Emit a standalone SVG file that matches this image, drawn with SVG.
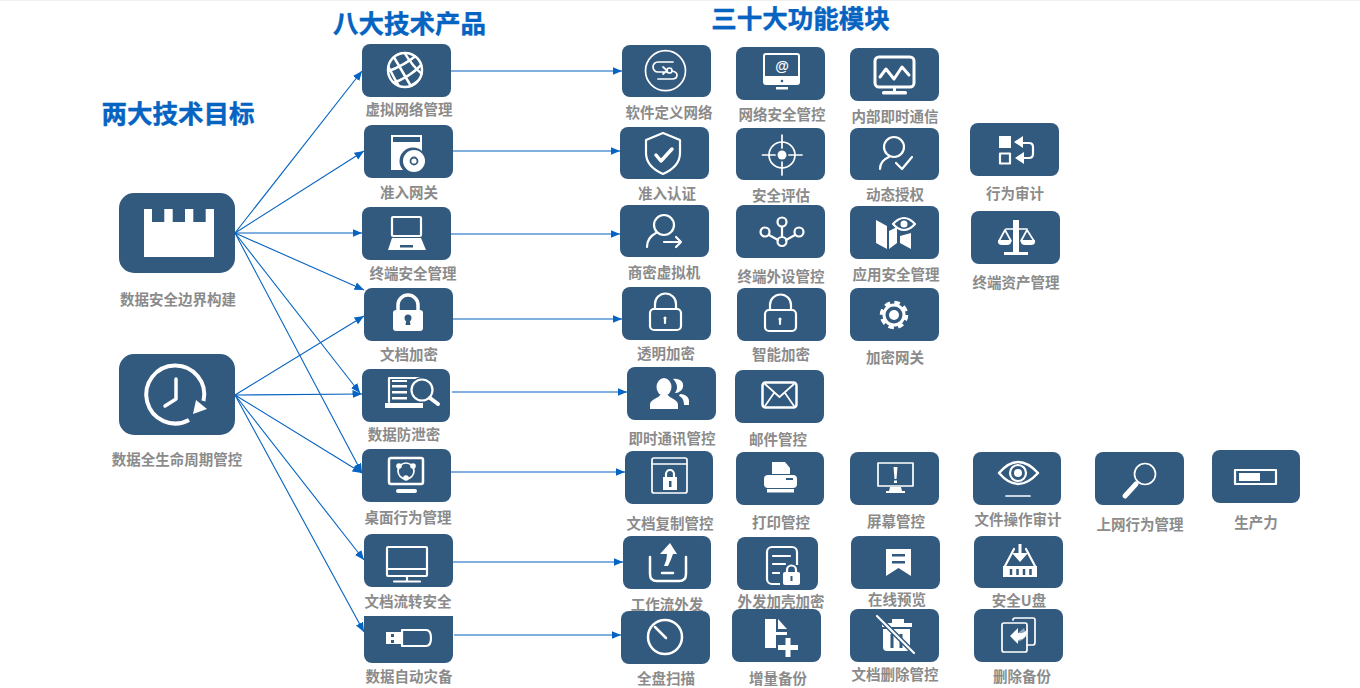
<svg xmlns="http://www.w3.org/2000/svg" width="1360" height="688" viewBox="0 0 1360 688">
<style>
.n{fill:#32597e}
.s{fill:none;stroke:#fff;stroke-width:2.200;stroke-linecap:round;stroke-linejoin:round}
.t{fill:none;stroke:#fff;stroke-width:1.700;stroke-linecap:round;stroke-linejoin:round}
.f{fill:#fff}
.d{fill:#32597e}
.l{font-family:"Noto Sans CJK SC","Liberation Sans",sans-serif;font-size:14.500px;font-weight:700;fill:#8b8b8b;text-anchor:middle;transform:translateY(.6px)}
.h{font-family:"Noto Sans CJK SC","Liberation Sans",sans-serif;font-size:25.500px;font-weight:700;fill:#0563c1;stroke:#0563c1;stroke-width:.4px;text-anchor:middle}
.c{fill:none;stroke:#0563c1;stroke-width:1.100;marker-end:url(#a)}
</style>
<defs>
<marker id="a" markerUnits="userSpaceOnUse" markerWidth="10" markerHeight="9" refX="9.500" refY="4" orient="auto"><path d="M0 0L9.500 4L0 8Z" fill="#0563c1"/></marker>
<clipPath id="g"><circle cx="405" cy="70" r="18"/></clipPath>
</defs>
<rect width="1360" height="1" fill="#f0f0f0"/>
<text class="h" x="178" y="123">两大技术目标</text>
<text class="h" x="409.500" y="33">八大技术产品</text>
<text class="h" x="800.500" y="28">三十大功能模块</text>

<g id="goal1"><rect class="n" x="119" y="193" width="116" height="80" rx="15"/><path class="f" d="M144 209h8v13h12.300v-13h8.400v13H185v-13h8.300v13h12.400v-13H214v48H144Z"/><text class="l" x="178" y="304">数据安全边界构建</text></g>
<g id="goal2"><rect class="n" x="119" y="354" width="116" height="81" rx="15"/><path class="s" style="stroke-width:4;stroke-linecap:butt" d="M203.500 401A29 29 0 1 0 189 420"/><path class="f" d="M196 400L207 409L193 414Z"/><path class="s" style="stroke-width:3.500" d="M176 379V399L165 406"/><text class="l" x="177" y="464">数据全生命周期管控</text></g>

<g id="p1"><rect class="n" x="362" y="44" width="89" height="53" rx="8"/><g clip-path="url(#g)" fill="none" stroke="#fff" stroke-width="2.500"><path d="M386 60Q398 52 408 50M386 72Q404 66 418 54M390 84Q410 78 424 62M402 90Q416 84 426 74"/><path d="M392 54Q398 64 412 88M404 52Q412 66 424 76M388 66Q394 78 400 88M416 52Q420 58 426 62"/></g><circle cx="405" cy="70" r="17" fill="none" stroke="#fff" stroke-width="2.500"/><text class="l" x="409" y="114">虚拟网络管理</text></g>
<g id="p2"><rect class="n" x="364" y="125" width="89" height="53" rx="8"/><rect class="f" x="391" y="135" width="31" height="35"/><rect class="d" x="393" y="137" width="27" height="5"/><circle class="d" cx="413" cy="161" r="13.500"/><circle class="f" cx="414" cy="161" r="11"/><circle cx="414" cy="161" r="3.500" fill="none" stroke="#32597e" stroke-width="1.800"/><text class="l" x="409" y="197">准入网关</text></g>
<g id="p3"><rect class="n" x="362" y="207" width="89" height="53" rx="8"/><rect class="s" x="392" y="217" width="29" height="19" rx="1"/><path class="f" d="M392 238H421L426 250H388Z"/><rect class="d" x="400" y="245" width="13" height="2.500"/><text class="l" x="413" y="278">终端安全管理</text></g>
<g id="p4"><rect class="n" x="364" y="288" width="89" height="53" rx="8"/><rect class="f" x="393" y="310" width="30" height="21" rx="3"/><path class="s" style="stroke-width:3.500" d="M398 310V305A10 10 0 0 1 418 305V310"/><circle class="d" cx="408" cy="318" r="3.500"/><path class="d" d="M406.500 319h3l1 6h-5Z"/><text class="l" x="409" y="359">文档加密</text></g>
<g id="p5"><rect class="n" x="362" y="369" width="88" height="53" rx="8"/><path class="s" d="M389 402V378H420"/><path class="f" d="M385 403H423V408H385Z"/><path class="f" d="M392 385h15v2.500h-15ZM392 391h15v2.500h-15ZM392 397h15v2.500h-15ZM392 380h15v2h-15Z"/><circle cx="422" cy="390" r="13" class="d"/><circle class="s" cx="422" cy="390" r="10.500"/><path class="s" style="stroke-width:4" d="M430 398L438 404"/><text class="l" x="404" y="439">数据防泄密</text></g>
<g id="p6"><rect class="n" x="362" y="449" width="89" height="53" rx="8"/><rect x="389" y="458" width="34" height="26" rx="2" fill="none" stroke="#fff" stroke-width="2.500"/><rect class="f" x="396" y="489" width="21" height="4" rx="2"/><circle class="t" cx="406" cy="471" r="8"/><circle class="f" cx="399" cy="466" r="2.800"/><circle class="f" cx="413" cy="466" r="2.800"/><circle class="f" cx="406" cy="478" r="2.800"/><text class="l" x="408" y="522">桌面行为管理</text></g>
<g id="p7"><rect class="n" x="364" y="534" width="89" height="53" rx="8"/><rect class="s" x="387" y="547" width="40" height="29" rx="1"/><path class="s" d="M387 569H427M407 576V581M394 581.500H420"/><text class="l" x="408" y="606">文档流转安全</text></g>
<g id="p8"><path class="n" d="M364 616H453V655a8 8 0 0 1-8 8H372a8 8 0 0 1-8-8Z"/><rect class="f" x="386" y="632" width="15" height="12"/><rect class="d" x="391" y="634" width="3" height="3"/><rect class="d" x="391" y="640" width="3" height="3"/><path class="s" d="M402 630H426Q431 630 431 638Q431 646 426 646H402Z"/><text class="l" x="409" y="681">数据自动灾备</text></g>

<g id="m1"><rect class="n" x="622" y="45" width="89" height="52" rx="8"/><circle class="t" cx="665.500" cy="70.700" r="20"/><path class="t" d="M673 62H658A5 5 0 0 0 658 72H667M663 67L667 70.500L663 74M672 71Q677 72 677 75Q677 79 672 79H658"/><circle class="t" cx="669.500" cy="70.500" r="2.500"/><text class="l" x="669" y="117">软件定义网络</text></g>
<g id="m2"><rect class="n" x="736" y="47" width="89" height="53" rx="8"/><rect x="764" y="54" width="35" height="30" rx="2" fill="none" stroke="#fff" stroke-width="2"/><rect class="f" x="764" y="76" width="35" height="8"/><circle class="d" cx="782" cy="81" r="1.300"/><rect class="f" x="776" y="87" width="12" height="2.500"/><text x="782" y="71" font-family="'Liberation Sans',sans-serif" font-size="14" font-weight="700" fill="#fff" text-anchor="middle">@</text><text class="l" x="782" y="119">网络安全管控</text></g>
<g id="m3"><rect class="n" x="850" y="48" width="89" height="53" rx="8"/><rect x="875" y="57" width="39" height="30" rx="4" fill="none" stroke="#fff" stroke-width="3"/><path class="s" style="stroke-width:3" d="M880 77L886 69L894 79L902 67L909 75"/><rect class="f" x="882" y="91" width="25" height="3.500" rx="1.500"/><rect class="f" x="893" y="87" width="3" height="5"/><text class="l" x="895" y="121">内部即时通信</text></g>
<g id="m4"><rect class="n" x="620" y="127" width="89" height="52" rx="8"/><path class="s" d="M663 133L680 140V153C680 164 672 170 663 174C654 170 646 164 646 153V140Z"/><path class="s" style="stroke-width:3.500" d="M656 155L661 161L672 149"/><text class="l" x="667" y="198">准入认证</text></g>
<g id="m5"><rect class="n" x="736" y="128" width="89" height="52" rx="8"/><circle class="t" cx="782" cy="155" r="13"/><circle class="f" cx="782" cy="155" r="4.500"/><path class="t" d="M782 135V148M782 162V175M762.500 155H775M789 155H802"/><text class="l" x="781" y="200">安全评估</text></g>
<g id="m6"><rect class="n" x="850" y="128" width="89" height="52" rx="8"/><circle class="s" cx="894" cy="147" r="10"/><path class="s" d="M880 169C880 162 884 159 889 157M896 163L902 169L912 157"/><text class="l" x="895" y="199">动态授权</text></g>
<g id="m7"><rect class="n" x="970" y="123" width="89" height="53" rx="8"/><rect class="f" x="999" y="136" width="12" height="12"/><rect class="s" x="1000" y="153.500" width="10" height="10" rx="0"/><path class="s" d="M1020 143H1029Q1033 143 1033 147V154Q1033 158 1029 158H1020"/><path class="f" d="M1014 142L1023 136V148ZM1015 158L1024 152V164Z"/><text class="l" x="1015" y="198">行为审计</text></g>
<g id="m8"><rect class="n" x="620" y="205" width="89" height="52" rx="8"/><circle class="s" cx="664" cy="225" r="10"/><path class="s" d="M647 247C647 240 650 236 656 233M664 242H681M676 237L681 242L676 247"/><text class="l" x="664" y="277">商密虚拟机</text></g>
<g id="m9"><rect class="n" x="736" y="205" width="89" height="53" rx="8"/><path class="s" d="M782 227V236M769 235L778 240M795 235L786 240"/><circle class="s" cx="782" cy="222" r="4.500"/><circle class="s" cx="765" cy="232" r="4.500"/><circle class="s" cx="799" cy="232" r="4.500"/><circle class="s" cx="782" cy="241.500" r="4.500"/><text class="l" x="781" y="281">终端外设管控</text></g>
<g id="m10"><rect class="n" x="850" y="206" width="89" height="53" rx="8"/><path class="f" d="M876 220L887 226V249L876 243ZM889 231L897 227V243L889 249ZM900 236L911 233V249L900 243Z"/><path class="s" d="M893 224Q904 212 915 224Q904 236 893 224Z"/><circle class="f" cx="904" cy="224" r="3.500"/><text class="l" x="896" y="279">应用安全管理</text></g>
<g id="m11"><rect class="n" x="971" y="211" width="89" height="53" rx="8"/><rect class="f" x="1013" y="220" width="6" height="33"/><rect class="f" x="1004" y="252" width="24" height="3"/><path class="t" d="M1006 229H1027M1005 230L999 241M1005 230L1011 241M1027 230L1021 241M1027 230L1034 241"/><path class="f" d="M998 240H1011V242Q1011 245 1007 245H1002Q998 245 998 242ZM1021 240H1035V242Q1035 245 1031 245H1025Q1021 245 1021 242Z"/><text class="l" x="1016" y="287">终端资产管理</text></g>
<g id="m12"><rect class="n" x="622" y="287" width="89" height="53" rx="8"/><rect class="s" x="650" y="309" width="31" height="21" rx="4"/><path class="s" d="M655 309V304A10.500 10.500 0 0 1 676 304V309"/><path class="s" d="M665 318V323"/><circle class="f" cx="665" cy="318" r="1.500"/><text class="l" x="666" y="358">透明加密</text></g>
<g id="m13"><rect class="n" x="737" y="288" width="89" height="53" rx="8"/><rect class="s" x="765" y="310" width="31" height="21" rx="4"/><path class="s" d="M770 310V305A10.500 10.500 0 0 1 791 305V310"/><path class="s" d="M780 319V324"/><circle class="f" cx="780" cy="319" r="1.500"/><text class="l" x="781" y="359">智能加密</text></g>
<g id="m14"><rect class="n" x="850" y="288" width="89" height="53" rx="8"/><circle cx="894" cy="315" r="10" fill="none" stroke="#fff" stroke-width="3"/><circle cx="894" cy="315" r="12.500" fill="none" stroke="#fff" stroke-width="3.500" stroke-dasharray="5.500 4.320"/><circle class="f" cx="894" cy="315" r="5"/><text class="l" x="895" y="362">加密网关</text></g>
<g id="m15"><rect class="n" x="627" y="367" width="89" height="53" rx="8"/><path class="f" d="M673 379C680 378 684 382 683 387C682 391 678 393 675 393C678 389 678 384 673 379ZM680 394C685 394 689 397 689 401V405H684C684 400 682 397 679 396Z"/><ellipse class="f" cx="664" cy="387" rx="7.500" ry="9"/><path class="f" d="M660 395H668C669 398 677 399 678 404V409H650V404C651 399 659 398 660 395Z"/><text class="l" x="672" y="443">即时通讯管控</text></g>
<g id="m16"><rect class="n" x="735" y="370" width="89" height="53" rx="8"/><rect x="762.500" y="382.500" width="34" height="25" rx="3" fill="none" stroke="#fff" stroke-width="2.500"/><path class="t" d="M765 384L779.500 397L794 384M765 406L774 393M794 406L785 393"/><text class="l" x="778" y="444">邮件管控</text></g>
<g id="m17"><rect class="n" x="625" y="451" width="88" height="53" rx="8"/><rect class="t" x="652" y="458" width="35" height="35" rx="2"/><path class="t" d="M652 464H687"/><rect class="f" x="663" y="477" width="14" height="13"/><path class="s" d="M666 477V474A4 4 0 0 1 674 474V477"/><rect class="d" x="669" y="481" width="2.500" height="6"/><text class="l" x="670" y="528">文档复制管控</text></g>
<g id="m18"><rect class="n" x="736" y="452" width="88" height="53" rx="8"/><path class="f" d="M772 462H785L790 468V474H772Z"/><rect class="f" x="764" y="475" width="33" height="13" rx="4"/><rect class="d" x="786" y="478" width="7" height="2"/><rect class="f" x="767" y="489" width="27" height="3.500"/><text class="l" x="781" y="527">打印管控</text></g>
<g id="m19"><rect class="n" x="850" y="452" width="89" height="53" rx="8"/><rect class="t" x="878" y="463" width="35" height="23"/><path class="f" d="M893.500 467H897.500L896.500 479H894.500ZM894 480.500H897V483H894Z"/><path class="f" d="M890 487H901L902 491H905V493H886V491H889Z"/><text class="l" x="896" y="526">屏幕管控</text></g>
<g id="m20"><rect class="n" x="973" y="452" width="88" height="53" rx="8"/><path class="s" style="stroke-width:2.500" d="M999 473Q1018 451 1038 473Q1018 495 999 473Z"/><circle class="s" cx="1018" cy="473" r="8"/><circle class="f" cx="1018" cy="473" r="4"/><path class="t" d="M1006 496H1030"/><text class="l" x="1018" y="524">文件操作审计</text></g>
<g id="m21"><rect class="n" x="1095" y="452" width="89" height="53" rx="8"/><circle class="t" cx="1145" cy="474" r="10.500"/><path class="s" style="stroke-width:5" d="M1136 484L1125 496"/><text class="l" x="1140" y="529">上网行为管理</text></g>
<g id="m22"><rect class="n" x="1212" y="450" width="88" height="53" rx="8"/><rect class="s" x="1235" y="470" width="41" height="14" rx="0"/><rect class="f" x="1239" y="473" width="21" height="8"/><text class="l" x="1256" y="527">生产力</text></g>
<g id="m23"><text class="l" x="667" y="609">工作流外发</text><rect class="n" x="623" y="536" width="88" height="53" rx="8"/><path class="s" style="stroke-width:2.500" d="M650 557V574Q650 581 657 581H679Q686 581 686 574V557"/><path class="f" d="M660 554L670 543L677 554H673Q671 560 668 566H664Q667 560 667 554Z"/><path class="s" style="stroke-width:2.500" d="M662 573H673"/></g>
<g id="m24"><rect class="n" x="737" y="537" width="81" height="53" rx="8"/><rect class="s" x="767" y="547" width="30" height="37" rx="5"/><path class="s" d="M773 556H790M773 564H785M773 573H780"/><rect class="d" x="780" y="565" width="21" height="22"/><rect class="f" x="783" y="572" width="17" height="13" rx="2"/><path class="s" d="M787 572V570A4.500 4.500 0 0 1 796 570V572"/><rect class="d" x="790.500" y="576" width="2" height="5"/><text class="l" x="781" y="606">外发加壳加密</text></g>
<g id="m25"><text class="l" x="897" y="604">在线预览</text><rect class="n" x="851" y="536" width="89" height="53" rx="8"/><path class="f" d="M886 549H911V576L898.500 568L886 576Z"/><rect class="d" x="892" y="554" width="13" height="2.500"/><rect class="d" x="892" y="561" width="13" height="2.500"/></g>
<g id="m26"><text class="l" x="1019" y="605">安全U盘</text><rect class="n" x="974" y="536" width="89" height="52" rx="8"/><path class="s" d="M1005 566L1014 549M1035 566L1026 549"/><path class="f" d="M1003 566H1037V577H1003Z"/><path d="M1011 569V575M1017.500 569V575M1024 569V575M1030.500 569V575" stroke="#32597e" stroke-width="2.500"/><path class="f" d="M1018.500 544H1021.500V553H1028L1020 562L1012 553H1018.500Z"/></g>
<g id="m27"><rect class="n" x="621" y="611" width="89" height="53" rx="8"/><circle cx="665" cy="637" r="17" fill="none" stroke="#fff" stroke-width="2.500"/><path class="s" style="stroke-width:2.500" d="M655 627L666 638"/><text class="l" x="666" y="683">全盘扫描</text></g>
<g id="m28"><rect class="n" x="732" y="609" width="89" height="53" rx="8"/><path class="f" d="M765 619H776V632H787V648H765Z"/><path class="f" d="M778 619L787 629H778Z"/><rect class="d" x="776" y="635" width="20" height="22"/><path class="f" d="M785.500 638h5v7h7.500v5h-7.500v7h-5v-7h-7.500v-5h7.500Z"/><text class="l" x="778" y="683">增量备份</text></g>
<g id="m29"><rect class="n" x="850" y="609" width="89" height="53" rx="8"/><path class="f" d="M883 629H910V647Q910 651 906 651H887Q883 651 883 647Z"/><path class="f" d="M882 623H912V627H882ZM892 619H904V623H892Z"/><path d="M892 634V648M901 634V648" stroke="#32597e" stroke-width="3"/><path stroke="#32597e" stroke-width="5" d="M877 616L914 653"/><path class="s" d="M877 616L914 653"/><text class="l" x="895" y="679">文档删除管控</text></g>
<g id="m30"><rect class="n" x="974" y="609" width="89" height="53" rx="8"/><path class="t" d="M1013 620Q1013 618 1015 618H1033Q1035 618 1035 620V642Q1035 645 1033 645H1027"/><rect class="t" x="1002" y="623" width="25" height="29" rx="2"/><path d="M1024 628Q1030 640 1016 642L1012 638Z" fill="#fff" fill-opacity=".45"/><path class="f" d="M1010 636L1018 628V633Q1024 634 1028 629Q1027 640 1018 640V644Z"/><text class="l" x="1022" y="681">删除备份</text></g>

<g id="connectors">
<path class="c" d="M235 233L362 71"/>
<path class="c" d="M235 233L364 151"/>
<path class="c" d="M235 233L362 233"/>
<path class="c" d="M235 233L364 290"/>
<path class="c" d="M235 233L360 393"/>
<path class="c" d="M235 233L362 473"/>
<path class="c" d="M235 395L364 316"/>
<path class="c" d="M235 395L362 394"/>
<path class="c" d="M235 395L362 473"/>
<path class="c" d="M235 395L364 560"/>
<path class="c" d="M235 395L364 632"/>
<path class="c" d="M451 71H622"/>
<path class="c" d="M453 151H620"/>
<path class="c" d="M451 234H620"/>
<path class="c" d="M453 319H622"/>
<path class="c" d="M452 392H627"/>
<path class="c" d="M451 472H625"/>
<path class="c" d="M453 562H623"/>
<path class="c" d="M454 635H621"/>
</g>
</svg>
